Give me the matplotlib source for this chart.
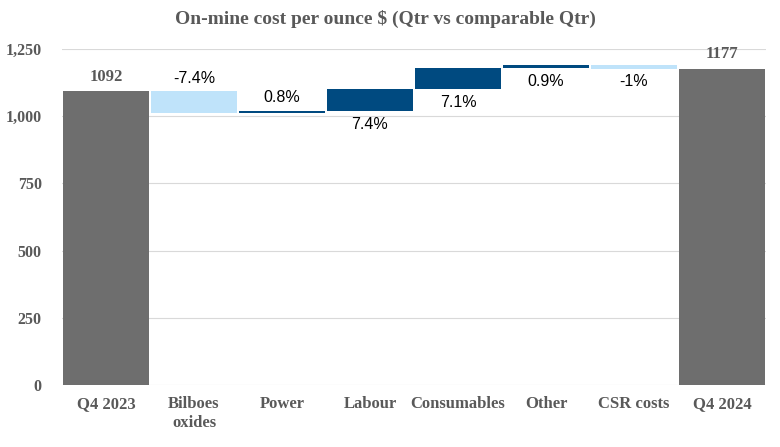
import matplotlib.pyplot as plt
import numpy as np

categories = ["Q4 2023", "Bilboes\noxides", "Power", "Labour", "Consumables",
              "Other", "CSR costs", "Q4 2024"]
start_total = 1092
end_total = 1177
deltas = [-81, 9, 81, 78, 10, -12]
pct_labels = ["-7.4%", "0.8%", "7.4%", "7.1%", "0.9%", "-1%"]
label_side = ["above", "above", "below", "below", "below", "below"]

GREY = "#6E6E6E"
DARK = "#004A80"
LIGHT = "#BFE3FA"
TXT = "#595959"
SERIF = ["Liberation Serif", "DejaVu Serif"]
SANS = ["Liberation Sans", "DejaVu Sans"]

fig = plt.figure(figsize=(7.8, 4.47), dpi=100)
ax = fig.add_axes([0.0795, 0.1387, 0.9025, 0.7517])

x = np.arange(len(categories))
w = 0.98

# totals
for xi, val in [(x[0], start_total), (x[-1], end_total)]:
    ax.bar(xi, val, width=w, color=GREY, zorder=3)
    ax.annotate(str(val), (xi, val), xytext=(0, 5), textcoords="offset points",
                ha="center", va="bottom", family=SERIF, fontweight="bold",
                fontsize=12, color=TXT)

# steps
level = start_total
for i, d in enumerate(deltas):
    xi = x[i + 1]
    bottom = level if d >= 0 else level + d
    ax.bar(xi, abs(d), bottom=bottom, width=w,
           color=DARK if d >= 0 else LIGHT, zorder=3)
    top = bottom + abs(d)
    if label_side[i] == "above":
        ax.annotate(pct_labels[i], (xi, top), xytext=(0, 9.5),
                    textcoords="offset points", ha="center", va="center",
                    family=SANS, fontsize=11.5, color="black")
    else:
        ax.annotate(pct_labels[i], (xi, bottom), xytext=(0, -9.5),
                    textcoords="offset points", ha="center", va="center",
                    family=SANS, fontsize=11.5, color="black")
    level += d

ax.set_xlim(-0.5, len(categories) - 0.5)
ax.set_ylim(0, 1250)
ax.set_yticks([0, 250, 500, 750, 1000, 1250])
ax.set_yticklabels(["0", "250", "500", "750", "1,000", "1,250"])
ax.set_xticks(x)
ax.set_xticklabels(categories)
for lab in ax.get_xticklabels():
    lab.set_family(SERIF)
    lab.set_fontweight("bold")
    lab.set_fontsize(12)
    lab.set_color(TXT)
for lab in ax.get_yticklabels():
    lab.set_family(SERIF)
    lab.set_fontweight("bold")
    lab.set_fontsize(11.5)
    lab.set_color(TXT)
ax.tick_params(axis="both", length=0)
ax.tick_params(axis="y", pad=14.5)
ax.tick_params(axis="x", pad=8)
ax.grid(axis="y", color="#D9D9D9", linewidth=0.8, zorder=0)
for s in ax.spines.values():
    s.set_visible(False)

fig.text(0.494, 0.958, "On-mine cost per ounce $ (Qtr vs comparable Qtr)",
         ha="center", va="center", family=SERIF, fontweight="bold",
         fontsize=14, color=TXT)

plt.savefig("out.png", dpi=100)
plt.close()
